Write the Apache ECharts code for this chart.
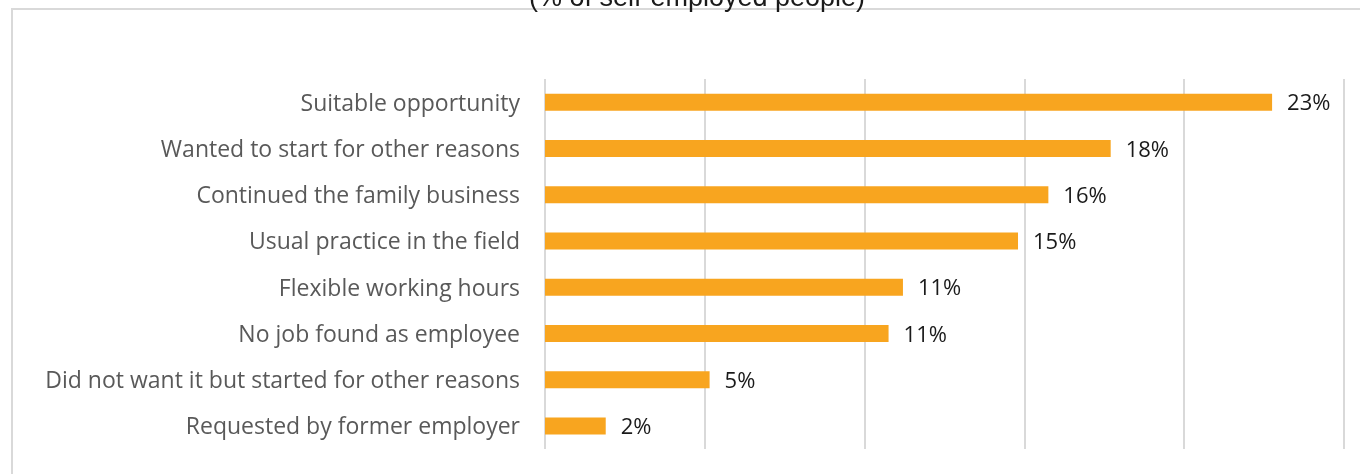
<!DOCTYPE html>
<html>
<head>
<meta charset="utf-8">
<title>Reasons for becoming self-employed</title>
<script src="https://cdn.jsdelivr.net/npm/echarts@6/dist/echarts.min.js"></script>
<style>
  html, body { margin: 0; padding: 0; background: #ffffff; }
  #chart { width: 1360px; height: 474px; }
</style>
</head>
<body>
<div id="chart"></div>
<script>
// Reasons for starting as self-employed, top to bottom
const categories = [
  'Suitable opportunity',
  'Wanted to start for other reasons',
  'Continued the family business',
  'Usual practice in the field',
  'Flexible working hours',
  'No job found as employee',
  'Did not want it but started for other reasons',
  'Requested by former employer'
];
// Share of self-employed people (%)
const shares = [22.75, 17.7, 15.75, 14.8, 11.2, 10.75, 5.15, 1.9];
const titleText = '(% of self-employed people)';

const chart = echarts.init(document.getElementById('chart'), null, { renderer: 'canvas' });

chart.setOption({
  animation: false,
  backgroundColor: '#ffffff',
  title: {
    text: titleText,
    left: 692,
    textAlign: 'center',
    top: -20,
    textStyle: {
      fontFamily: '"Liberation Sans", Arial, sans-serif',
      fontSize: 27,
      fontWeight: 'normal',
      color: '#1a1a1a'
    }
  },
  graphic: [{
    type: 'rect',
    silent: true,
    shape: { x: 12, y: 9, width: 1370, height: 480 },
    style: { fill: 'none', stroke: '#d9d9d9', lineWidth: 2 },
    z: -1
  }],
  grid: {
    left: 545,
    right: 16,
    top: 79,
    height: 370,
    containLabel: false
  },
  xAxis: {
    type: 'value',
    min: 0,
    max: 25,
    interval: 5,
    axisLabel: { show: false },
    axisLine: { show: false },
    axisTick: { show: false },
    splitLine: { show: true, lineStyle: { color: '#d9d9d9', width: 2 } }
  },
  yAxis: {
    type: 'category',
    data: categories,
    inverse: true,
    axisLine: { show: false },
    axisTick: { show: false },
    axisLabel: {
      margin: 25,
      formatter: v => '{c|' + v + '}',
      rich: {
        c: {
          padding: [4, 0, 0, 0],
          fontFamily: '"Open Sans", sans-serif',
          fontSize: 23,
          color: '#595959'
        }
      }
    }
  },
  series: [{
    type: 'bar',
    data: shares,
    barWidth: 17,
    itemStyle: { color: '#F8A51F' },
    label: {
      show: true,
      position: 'right',
      distance: 15,
      offset: [0, 2],
      fontFamily: '"Open Sans", sans-serif',
      fontSize: 22,
      color: '#1a1a1a',
      formatter: p => Math.round(p.value) + '%'
    }
  }]
});
</script>
</body>
</html>
